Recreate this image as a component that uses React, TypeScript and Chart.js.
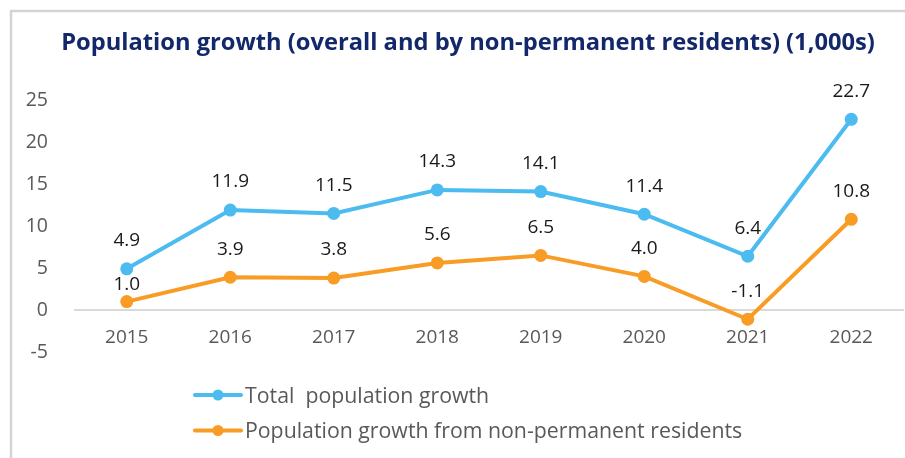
import React, { useEffect, useRef } from "react";
import { Chart, registerables } from "chart.js";

Chart.register(...registerables);

const TITLE = "Population growth (overall and by non-permanent residents) (1,000s)";
const YEARS = ["2015", "2016", "2017", "2018", "2019", "2020", "2021", "2022"];
const TOTAL_GROWTH = [4.9, 11.9, 11.5, 14.3, 14.1, 11.4, 6.4, 22.7];
const NPR_GROWTH = [1.0, 3.9, 3.8, 5.6, 6.5, 4.0, -1.1, 10.8];
const SERIES_NAMES = ["Total  population growth", "Population growth from non-permanent residents"];
const Y_MIN = -5;
const Y_MAX = 25;
const Y_STEP = 5;

const BLUE = "#4bbbf0";
const ORANGE = "#f89c25";
const FONT = "'Open Sans', 'Noto Sans', sans-serif";

const frameAndTitle = {
  id: "frameAndTitle",
  beforeDraw(chart: any) {
    const ctx = chart.ctx;
    ctx.save();
    ctx.fillStyle = "#ffffff";
    ctx.fillRect(0, 0, chart.width, chart.height);
    ctx.strokeStyle = "#d4d4d4";
    ctx.lineWidth = 2.5;
    ctx.strokeRect(11, 11, 2000, 2000);
    ctx.fillStyle = "#12286b";
    ctx.font = `bold 23.7px ${FONT}`;
    ctx.textAlign = "center";
    ctx.textBaseline = "alphabetic";
    ctx.fillText(TITLE, 468, 50);
    ctx.restore();
  },
};

const dataLabels = {
  id: "dataLabels",
  afterDatasetsDraw(chart: any) {
    const ctx = chart.ctx;
    ctx.save();
    ctx.font = `19px ${FONT}`;
    ctx.fillStyle = "#1a1a1a";
    ctx.textAlign = "center";
    ctx.textBaseline = "middle";
    chart.data.datasets.forEach((ds: any, di: number) => {
      const meta = chart.getDatasetMeta(di);
      meta.data.forEach((pt: any, i: number) => {
        let off = 28;
        if (di === 1) {
          const other = chart.getDatasetMeta(0).data[i];
          if (other && pt.y - other.y < 40) off = 17;
        }
        ctx.fillText(Number(ds.data[i]).toFixed(1), pt.x, pt.y - off);
      });
    });
    ctx.restore();
  },
};

const legendPlugin = {
  id: "customLegend",
  afterDraw(chart: any) {
    const ctx = chart.ctx;
    ctx.save();
    const rows = [395, 430.5];
    chart.data.datasets.forEach((ds: any, di: number) => {
      const y = rows[di];
      ctx.strokeStyle = ds.borderColor;
      ctx.lineWidth = 4;
      ctx.lineCap = "round";
      ctx.beginPath();
      ctx.moveTo(195, y);
      ctx.lineTo(241, y);
      ctx.stroke();
      ctx.fillStyle = ds.borderColor;
      ctx.beginPath();
      ctx.arc(218, y, 5.5, 0, Math.PI * 2);
      ctx.fill();
      ctx.fillStyle = "#595959";
      ctx.font = `21.3px ${FONT}`;
      ctx.textAlign = "left";
      ctx.textBaseline = "alphabetic";
      ctx.fillText(ds.label, 245, y + 7.5);
    });
    ctx.restore();
  },
};

export default function App() {
  const ref = useRef<HTMLCanvasElement | null>(null);
  useEffect(() => {
    if (!ref.current) return;
    const chart = new Chart(ref.current, {
      type: "line",
      data: {
        labels: YEARS,
        datasets: [
          {
            label: SERIES_NAMES[0],
            data: TOTAL_GROWTH,
            borderColor: BLUE,
            backgroundColor: BLUE,
            borderWidth: 4,
            pointRadius: 6.5,
            pointBorderWidth: 0,
            pointBackgroundColor: BLUE,
            tension: 0,
          },
          {
            label: SERIES_NAMES[1],
            data: NPR_GROWTH,
            borderColor: ORANGE,
            backgroundColor: ORANGE,
            borderWidth: 4,
            pointRadius: 6.5,
            pointBorderWidth: 0,
            pointBackgroundColor: ORANGE,
            tension: 0,
          },
        ],
      },
      options: {
        responsive: false,
        animation: false,
        layout: { autoPadding: false, padding: { left: 0, right: 2, top: 100, bottom: 106 } },
        plugins: {
          legend: { display: false },
          title: { display: false },
          tooltip: { enabled: false },
        },
        scales: {
          x: {
            type: "category",
            position: { y: 0 } as any,
            offset: true,
            grid: { display: false },
            border: { display: true, color: "#d9d9d9", width: 2 },
            ticks: { color: "#595959", font: { family: FONT, size: 19 }, padding: 8 },
          },
          y: {
            min: Y_MIN,
            max: Y_MAX,
            grid: { display: false },
            border: { display: false },
            ticks: {
              stepSize: Y_STEP,
              color: "#595959",
              font: { family: FONT, size: 19.5 },
              padding: 19,
            },
            afterFit(scale: any) {
              scale.width = 75;
            },
          },
        },
      },
      plugins: [frameAndTitle, dataLabels, legendPlugin],
    });
    return () => chart.destroy();
  }, []);
  return (
    <div style={{ position: "absolute", left: 0, top: 0, width: 905, height: 458, overflow: "hidden" }}>
      <canvas ref={ref} width={905} height={458} style={{ display: "block" }} />
    </div>
  );
}
